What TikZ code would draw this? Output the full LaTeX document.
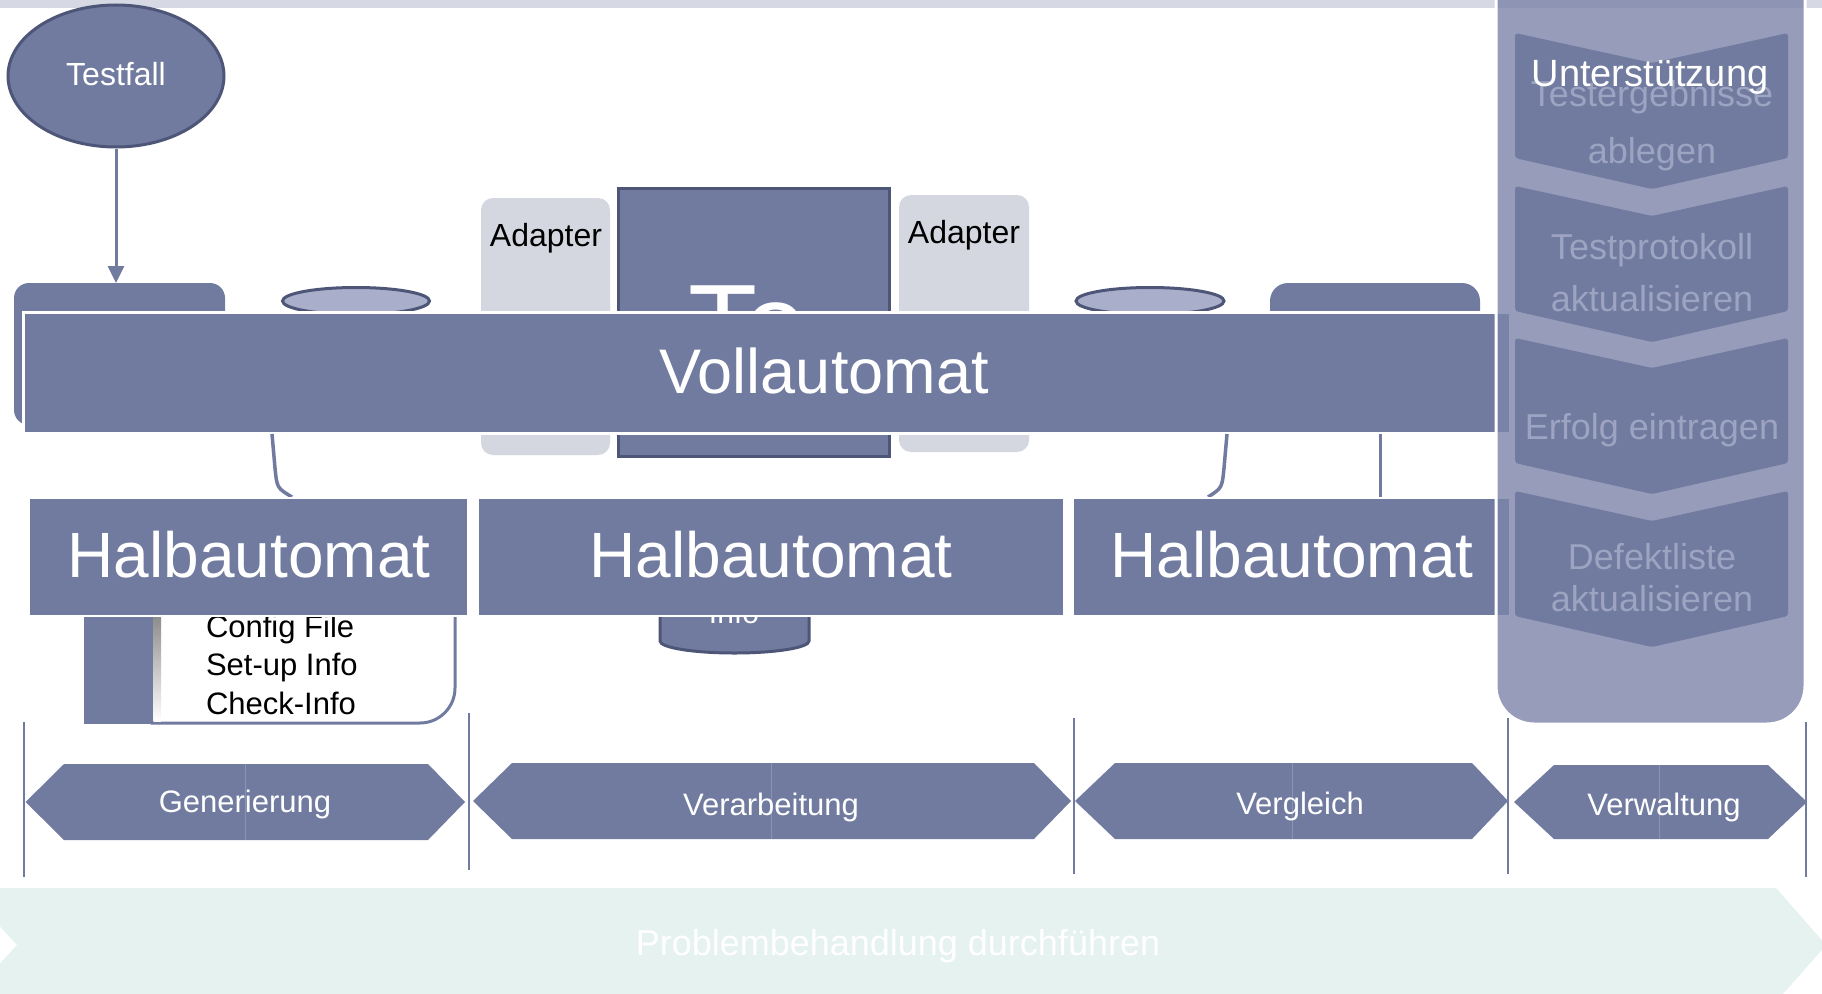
\documentclass[tikz,border=0pt]{standalone}
\usepackage{fontspec}
\setmainfont{Liberation Sans}
\usetikzlibrary{arrows.meta,shapes.geometric}
\definecolor{mainblue}{HTML}{717BA0}
\definecolor{darkline}{HTML}{4E5678}
\definecolor{cyltop}{HTML}{A9AFCB}
\definecolor{adaptgray}{HTML}{D5D7E0}
\definecolor{panelblue}{HTML}{7C84A9}
\definecolor{bandgray}{HTML}{D6D8E4}
\definecolor{mint}{HTML}{E6F2F0}
\definecolor{fadetext}{HTML}{9DA4C2}
\definecolor{seam}{HTML}{8A93B4}
\definecolor{shade}{HTML}{F1F2F6}
\newcommand\fsz[1]{\fontsize{#1}{#1}\selectfont}
\begin{document}
\begin{tikzpicture}[x=1pt,y=-1pt,
  blk/.style={fill=mainblue, inner sep=0pt, outer sep=0pt, anchor=north west},
  txt/.style={inner sep=0pt, outer sep=0pt, anchor=base, font=\fsz{#1}},
  sep/.style={mainblue, line width=1.5pt},
  hex/.style={fill=mainblue},
  seamline/.style={seam, line width=1pt},
  chev/.style={fill=mainblue, rounded corners=3pt}]
\useasboundingbox (0,0) rectangle (1822,993);
\clip (0,0) rectangle (1822,993);
\fill[white] (0,0) rectangle (1822,993);

% top band
\fill[bandgray] (0,-5) rectangle (1822,8);

% bottom process arrow
\fill[mint] (-35,888) -- (1776,888) -- (1826,945) -- (1776,1002) -- (-35,1002) -- (17,945) -- cycle;
\node[txt=36, text=white] (probtxt) at (898,955) {Problembehandlung durchführen};

% test case
\node[ellipse, fill=mainblue, draw=darkline, line width=3pt, minimum width=216pt, minimum height=142pt, inner sep=0pt] (testfall) at (116,76) {};
\node[txt=32, text=white] (testfalltxt) at (116,85) {Testfall};

% elements behind the full automation bar
\node[blk, rounded corners=15pt, minimum width=211pt, minimum height=142pt] (genbox) at (14,283) {};
\draw[mainblue, line width=3pt, -{Triangle[length=17pt,width=16pt]}] (testfall.south) -- (testfall.south |- genbox.north);

\node[ellipse, fill=cyltop, draw=darkline, line width=3pt, minimum width=147pt, minimum height=27pt, inner sep=0pt] (cylL) at (356,301) {};
\node[ellipse, fill=cyltop, draw=darkline, line width=3pt, minimum width=148pt, minimum height=27pt, inner sep=0pt] (cylR) at (1150,301) {};

\node[blk, fill=adaptgray, rounded corners=12pt, minimum width=129pt, minimum height=257pt] (adL) at (481,198) {};
\node[txt=32] (adLt) at (546,246) {Adapter};
\node[blk, fill=adaptgray, rounded corners=12pt, minimum width=130pt, minimum height=257pt] (adR) at (899,195) {};
\node[txt=32] (adRt) at (964,243) {Adapter};

\node[blk, draw=darkline, line width=3pt, minimum width=271pt, minimum height=268pt] (core) at (618.5,188.5) {};
\node[txt=113, text=white] (coretxt) at (748,363) {Te};

\node[blk, rounded corners=18pt, minimum width=210pt, minimum height=142pt] (cmpbox) at (1270,283) {};

% full automation bar
\node[blk, draw=white, line width=3pt, minimum width=1487pt, minimum height=121pt] (voll) at (23,312) {};
\node[txt=63, text=white] (vollt) at (824,393) {Vollautomat};

% links below the bar
\draw[mainblue, line width=3.5pt] (272,434) -- (275,468) .. controls (277,488) .. (292,497);
\draw[mainblue, line width=3.5pt] (1227,434) -- (1224,468) .. controls (1222,488) .. (1208,497);
\draw[mainblue, line width=3pt] (1380,434) -- (1380,497);

% configuration data
\node[blk, minimum width=74pt, minimum height=114pt] (cfgtab) at (84,610) {};
\draw[mainblue, line width=3pt, fill=white] (152,605) -- (455,605) -- (455,688) arc[start angle=0, end angle=90, radius=35] -- (152,723) -- cycle;
\fill[shade] (153.5,605) rectangle (161,721.5);
\node[txt=31, anchor=base west] (cfg1) at (206,637) {Config File};
\node[txt=31, anchor=base west] (cfg2) at (206,675) {Set-up Info};
\node[txt=31, anchor=base west] (cfg3) at (206,714) {Check-Info};

% info store
\draw[darkline, line width=3pt, fill=mainblue] (660,600) -- (660,641) arc[start angle=180, end angle=0, x radius=74.5, y radius=12] -- (809,600);
\node[txt=30, text=white] (infot) at (734,623) {Info};

% semi-automation boxes
\node[blk, draw=white, line width=2pt, minimum width=439pt, minimum height=118pt] (halb1) at (29,498) {};
\node[blk, draw=white, line width=2pt, minimum width=586pt, minimum height=118pt] (halb2) at (478,498) {};
\node[blk, draw=white, line width=2pt, minimum width=437pt, minimum height=118pt] (halb3) at (1073,498) {};
\node[txt=64, text=white] (halb1t) at (249,577) {Halbautomat};
\node[txt=64, text=white] (halb2t) at (771,577) {Halbautomat};
\node[txt=64, text=white] (halb3t) at (1292,577) {Halbautomat};

% phase separators
\draw[sep] (24,722) -- (24,877);
\draw[sep] (469,713) -- (469,870);
\draw[sep] (1074,718) -- (1074,874);
\draw[sep] (1508,718) -- (1508,874);
\draw[sep] (1806,722) -- (1806,877);

% phases
\fill[hex] (25.6,802) -- (64,764) -- (428,764) -- (465,802) -- (428,840) -- (64,840) -- cycle;
\draw[seamline] (245,764) -- (245,840);
\node[txt=31, text=white] (ph1) at (245,812) {Generierung};

\fill[hex] (473,801) -- (512,763) -- (1034,763) -- (1071,801) -- (1034,839) -- (512,839) -- cycle;
\draw[seamline] (771,763) -- (771,839);
\node[txt=31, text=white] (ph2) at (771,815) {Verarbeitung};

\fill[hex] (1075,801) -- (1115,763) -- (1472,763) -- (1508,801) -- (1472,839) -- (1115,839) -- cycle;
\draw[seamline] (1292,763) -- (1292,839);
\node[txt=31, text=white] (ph3) at (1300,814) {Vergleich};

\fill[hex] (1514,802) -- (1554,765) -- (1768,765) -- (1807,802) -- (1768,839) -- (1554,839) -- cycle;
\draw[seamline] (1659,765) -- (1659,839);
\node[txt=31, text=white] (ph4) at (1664,815) {Verwaltung};

% support panel
\draw[draw=white, line width=3pt, fill=panelblue, fill opacity=0.8, rounded corners=38pt] (1496,-60) rectangle (1805,724);
\foreach \yy in {33,186,338,491} {
  \fill[chev] (1515,\yy) -- (1652,\yy+30) -- (1788,\yy) -- (1788,\yy+125) -- (1652,\yy+156) -- (1515,\yy+125) -- cycle;
}
\node[txt=36, text=fadetext] (s1a) at (1652,106) {Testergebnisse};
\node[txt=36, text=fadetext] (s1b) at (1652,163) {ablegen};
\node[txt=36, text=fadetext] (s2a) at (1652,259) {Testprotokoll};
\node[txt=36, text=fadetext] (s2b) at (1652,311) {aktualisieren};
\node[txt=36, text=fadetext] (s3a) at (1652,439) {Erfolg eintragen};
\node[txt=36, text=fadetext] (s4a) at (1652,569) {Defektliste};
\node[txt=36, text=fadetext] (s4b) at (1652,611) {aktualisieren};
\node[txt=38, text=white] (panelt) at (1650,86) {Unterstützung};
\end{tikzpicture}
\end{document}
